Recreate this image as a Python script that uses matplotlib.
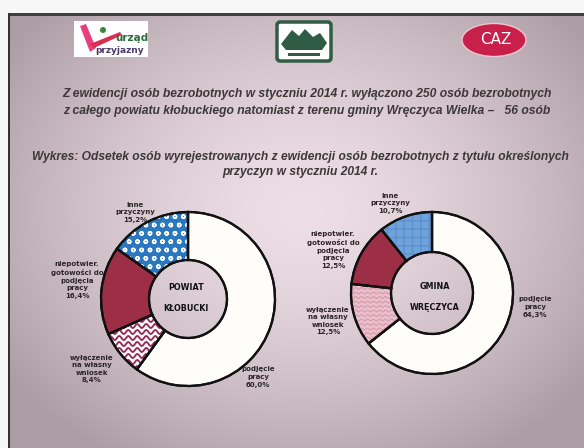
import numpy as np
import matplotlib
matplotlib.use("Agg")
import matplotlib.pyplot as plt
from matplotlib.patches import Rectangle, FancyBboxPatch, Ellipse, Polygon, Wedge

# ---- data ----
categories = ["podjęcie\npracy", "wyłączenie\nna własny\nwniosek",
              "niepotwier.\ngotowości do\npodjęcia\npracy", "inne\nprzyczyny"]
powiat_values = [60.0, 8.4, 16.4, 15.2]
gmina_values = [64.3, 12.5, 12.5, 10.7]
powiat_title = "POWIAT\n\nKŁOBUCKI"
gmina_title = "GMINA\n\nWRĘCZYCA"
title_lines = ["Z ewidencji osób bezrobotnych w styczniu 2014 r. wyłączono 250 osób bezrobotnych",
               "z całego powiatu kłobuckiego natomiast z terenu gminy Wręczyca Wielka –   56 osób"]
subtitle_lines = ["Wykres: Odsetek osób wyrejestrowanych z ewidencji osób bezrobotnych z tytułu określonych",
                  "przyczyn w styczniu 2014 r."]

W, H = 584, 448
fig = plt.figure(figsize=(W / 100, H / 100), dpi=100)
ax = fig.add_axes([0, 0, 1, 1])
ax.set_xlim(0, W)
ax.set_ylim(0, H)
ax.set_aspect("equal")
ax.axis("off")

def py(y):  # pixel y (from top) -> data y
    return H - y

# ---- background (slide gradient) ----
yy, xx = np.mgrid[0:H, 0:W]
t = np.sqrt(((xx - 300) / 360.0) ** 2 + ((yy - 210) / 290.0) ** 2)
t = np.clip(t, 0, 1) ** 1.5
c0 = np.array([238, 222, 230]) / 255.0
c1 = np.array([172, 156, 164]) / 255.0
img = c0[None, None, :] * (1 - t[..., None]) + c1[None, None, :] * t[..., None]
img[:13, :, :] = 0.97
img[:, :8, :] = 0.97
img[13:16, 8:, :] = 0.25
img[13:, 8:10, :] = 0.2
ax.imshow(img, extent=(0, W, 0, H), origin="upper", zorder=0, interpolation="bilinear")

# ---- logos (decorative) ----
ax.add_patch(Rectangle((74, py(57)), 74, 36, facecolor="white", edgecolor="none", zorder=1))
ax.add_patch(Polygon([(80, py(26)), (86, py(24)), (96, py(48)), (90, py(52))],
                     closed=True, facecolor="#e8407a", edgecolor="none", zorder=2))
ax.add_patch(Ellipse((103, py(30)), 6, 6, facecolor="#3a8a3a", edgecolor="none", zorder=2))
ax.add_patch(Polygon([(90, py(44)), (120, py(32)), (122, py(35)), (94, py(48))],
                     closed=True, facecolor="#d83050", edgecolor="none", zorder=2))
ax.text(132, py(38), "urząd", fontsize=7.5, fontweight="bold", color="#2d6a3a",
        ha="center", va="center", zorder=3)
ax.text(120, py(50), "przyjazny", fontsize=6.5, fontweight="bold", color="#4a3a6a",
        ha="center", va="center", zorder=3)

ax.add_patch(FancyBboxPatch((277, py(61)), 54, 39, boxstyle="round,pad=0,rounding_size=3",
                            facecolor="white", edgecolor="#2f5c44", linewidth=2.5, zorder=1))
ax.add_patch(Polygon([(281, py(44)), (292, py(30)), (299, py(36)), (305, py(29)),
                      (313, py(37)), (320, py(33)), (327, py(43)), (322, py(50)), (286, py(50))],
                     closed=True, facecolor="#2f5c44", edgecolor="none", zorder=2))
ax.add_patch(Rectangle((288, py(56)), 32, 3, facecolor="#2f5c44", edgecolor="none", zorder=2))

ax.add_patch(Ellipse((494, py(40)), 64, 33, facecolor="#c8204a", edgecolor="#f0c8d0",
                     linewidth=1.0, zorder=1))
ax.text(496, py(39), "CAZ", fontsize=11, color="white", ha="center", va="center", zorder=2)

# ---- titles ----
tcol = "#3c3838"
for txt, y in zip(title_lines, [94, 111]):
    ax.text(307, py(y), txt, fontsize=8.75, fontstyle="italic", fontweight="bold",
            color=tcol, ha="center", va="center", family="Liberation Sans", zorder=3)
for txt, y in zip(subtitle_lines, [157, 172]):
    ax.text(300, py(y), txt, fontsize=8.65, fontstyle="italic", fontweight="bold",
            color=tcol, ha="center", va="center", family="Liberation Sans", zorder=3)

# ---- donuts ----
face_p = ["#fffdfa", "#fdf7f7", "#9c2e46", "#2b78be"]
face_g = ["#fffdfa", "#e9c0cd", "#9c2e46", "#6fa3dc"]

def donut(vals, cx, cy, r, rin, faces):
    wedges, _ = ax.pie(vals, startangle=90, counterclock=False, center=(cx, py(cy)),
                       radius=r, colors=faces, frame=True,
                       wedgeprops=dict(width=r - rin, edgecolor="#111111", linewidth=1.6))
    for w in wedges:
        w.set_zorder(4)
    return wedges

def waves(wedge, cx, cy, r, color, spacing, amp, lam, lw):
    xs = np.linspace(cx - r, cx + r, 800)
    for y0 in np.arange(py(cy) - r, py(cy) + r, spacing):
        ln, = ax.plot(xs, y0 + amp * np.sin(2 * np.pi * xs / lam), color=color, lw=lw,
                      zorder=4.6)
        ln.set_clip_path(wedge)

def hatch_overlay(wedge, pattern, color):
    hw = Wedge(wedge.center, wedge.r, wedge.theta1, wedge.theta2, width=wedge.width,
               facecolor="none", edgecolor=color, linewidth=0, hatch=pattern, zorder=4.5)
    ax.add_patch(hw)

def outline(wedge):
    ow = Wedge(wedge.center, wedge.r, wedge.theta1, wedge.theta2, width=wedge.width,
               facecolor="none", edgecolor="#111111", linewidth=1.6, zorder=4.8)
    ax.add_patch(ow)

# Powiat
pcx, pcy, pr, prin = 188, 299, 87, 39
wp = donut(powiat_values, pcx, pcy, pr, prin, face_p)
waves(wp[1], pcx, pcy, pr, "#8e2a55", 6.0, 2.0, 9.0, 1.3)
hatch_overlay(wp[3], "oo", "white")
for w in wp:
    outline(w)

# Gmina
gcx, gcy, gr, grin = 432, 293, 81, 41
wg = donut(gmina_values, gcx, gcy, gr, grin, face_g)
waves(wg[1], gcx, gcy, gr, "#d898ac", 4.5, 1.0, 6.0, 0.8)
hatch_overlay(wg[3], "++", "#5d90cc")
for w in wg:
    outline(w)

ax.set_xlim(0, W)
ax.set_ylim(0, H)
ax.axis("off")

# center titles
ax.text(186, py(298), powiat_title, fontsize=5.8, fontweight="bold", color="#111111",
        ha="center", va="center", linespacing=1.2, zorder=6)
ax.text(435, py(297), gmina_title, fontsize=5.8, fontweight="bold", color="#111111",
        ha="center", va="center", linespacing=1.2, zorder=6)

# slice labels
def fmt(v):
    return f"{v:.1f}%".replace(".", ",")

lab_col = "#2a2626"
p_pos = [(258, 377), (92, 369), (77, 280), (135, 212)]
g_pos = [(535, 307), (328, 321), (333, 250), (390, 203)]
for cat, v, (x, y) in zip(categories, powiat_values, p_pos):
    ax.text(x, py(y), cat + "\n" + fmt(v), fontsize=5.0, fontweight="bold", color=lab_col,
            ha="center", va="center", linespacing=1.3, zorder=6)
for cat, v, (x, y) in zip(categories, gmina_values, g_pos):
    ax.text(x, py(y), cat + "\n" + fmt(v), fontsize=5.0, fontweight="bold", color=lab_col,
            ha="center", va="center", linespacing=1.3, zorder=6)

fig.savefig("out.png", dpi=100)
